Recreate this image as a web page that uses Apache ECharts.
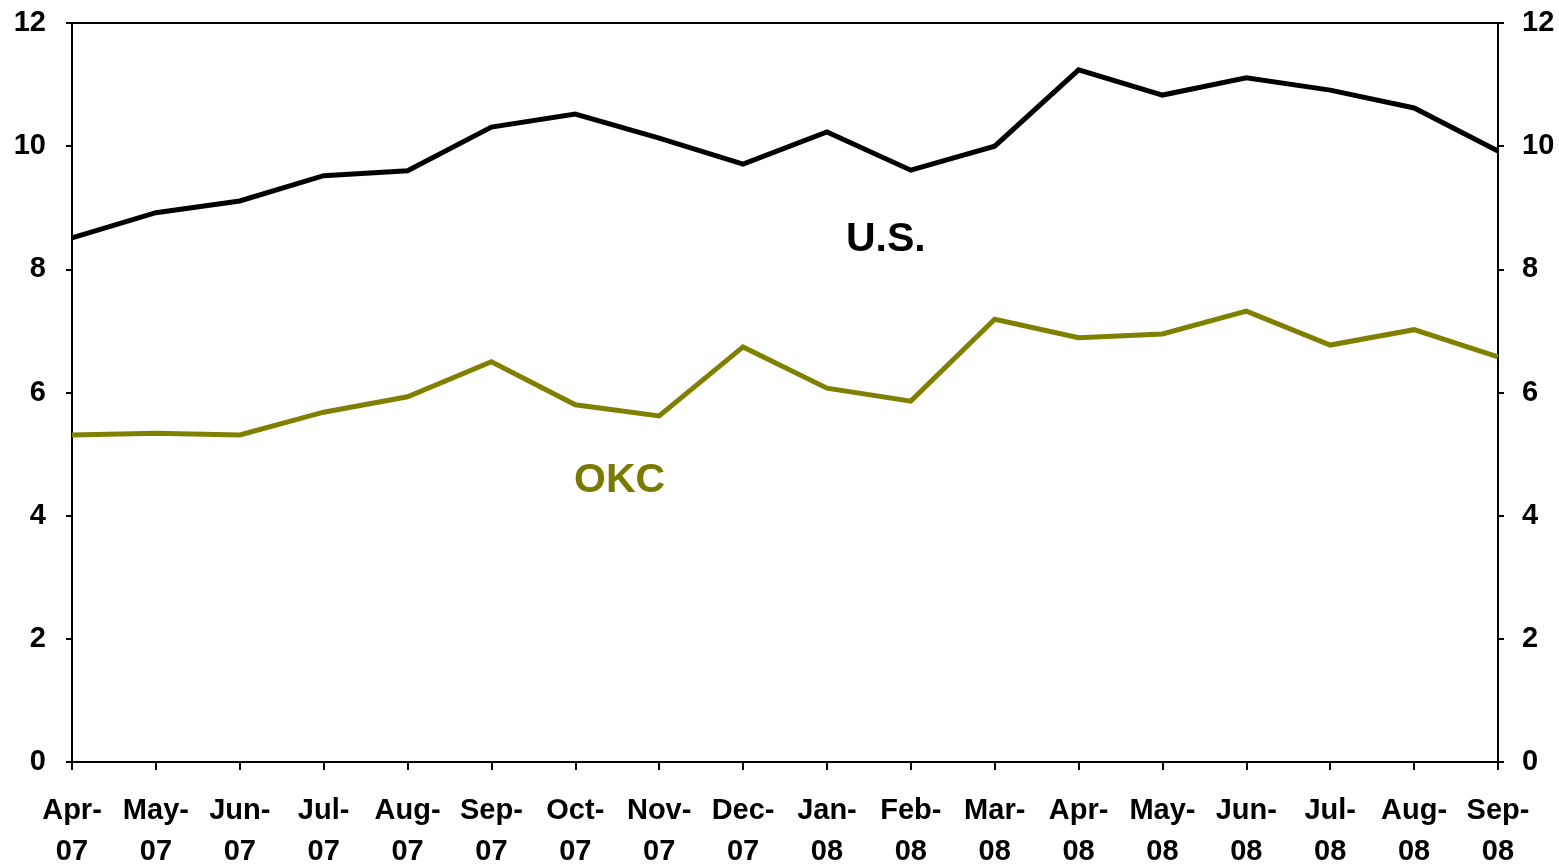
<!DOCTYPE html>
<html>
<head>
<meta charset="utf-8">
<script src="https://cdn.jsdelivr.net/npm/echarts@6/dist/echarts.min.js"></script>
<style>
html,body{margin:0;padding:0;background:#fff;}
#chart{width:1559px;height:865px;}
</style>
</head>
<body>
<div id="chart"></div>
<script>
const categories = ['Apr-\n07','May-\n07','Jun-\n07','Jul-\n07','Aug-\n07','Sep-\n07','Oct-\n07','Nov-\n07','Dec-\n07','Jan-\n08','Feb-\n08','Mar-\n08','Apr-\n08','May-\n08','Jun-\n08','Jul-\n08','Aug-\n08','Sep-\n08'];
const usValues = [8.51,8.92,9.11,9.52,9.60,10.31,10.52,10.13,9.71,10.23,9.61,10.00,11.24,10.83,11.11,10.91,10.62,9.92];
const okcValues = [5.31,5.34,5.31,5.68,5.93,6.50,5.80,5.62,6.74,6.07,5.86,7.19,6.89,6.95,7.32,6.77,7.02,6.58];
const yTicks = {min:0, max:12, interval:2};

const chart = echarts.init(document.getElementById('chart'), null, {renderer:'canvas'});
const font = 'Liberation Sans, Arial, sans-serif';
const yAxisCommon = {
  type:'value', min:yTicks.min, max:yTicks.max, interval:yTicks.interval,
  axisLine:{show:true, lineStyle:{color:'#000', width:2}},
  axisTick:{show:true, length:6, lineStyle:{color:'#000', width:2}},
  splitLine:{show:false},
  axisLabel:{color:'#000', fontSize:29, fontWeight:'bold', fontFamily:font}
};
chart.setOption({
  animation:false,
  backgroundColor:'#fff',
  grid:{left:72, right:61, top:23, bottom:103, containLabel:false, outerBoundsMode:'none', show:true, borderColor:'#000', borderWidth:2},
  xAxis:{
    type:'category', data:categories, boundaryGap:false,
    axisLine:{lineStyle:{color:'#000', width:2}},
    axisTick:{show:true, length:8, alignWithLabel:true, lineStyle:{color:'#000', width:2}},
    axisLabel:{color:'#000', fontSize:29, fontWeight:'bold', fontFamily:font, lineHeight:41, margin:28, interval:0}
  },
  yAxis:[
    Object.assign({position:'left'}, yAxisCommon, {axisLabel:Object.assign({}, yAxisCommon.axisLabel, {margin:26})}),
    Object.assign({position:'right'}, yAxisCommon, {axisLabel:Object.assign({}, yAxisCommon.axisLabel, {margin:24})})
  ],
  series:[
    {name:'U.S.', type:'line', data:usValues, yAxisIndex:0, symbol:'none', lineStyle:{color:'#000', width:5, join:'miter'}},
    {name:'OKC', type:'line', data:okcValues, yAxisIndex:0, symbol:'none', lineStyle:{color:'#808000', width:5, join:'miter'}}
  ],
  graphic:[
    {type:'text', left:846, top:219, style:{text:'U.S.', fill:'#000', font:'bold 41px Liberation Sans, Arial, sans-serif'}},
    {type:'text', left:574, top:460, style:{text:'OKC', fill:'#7a7a00', font:'bold 41px Liberation Sans, Arial, sans-serif'}}
  ]
});
</script>
</body>
</html>
